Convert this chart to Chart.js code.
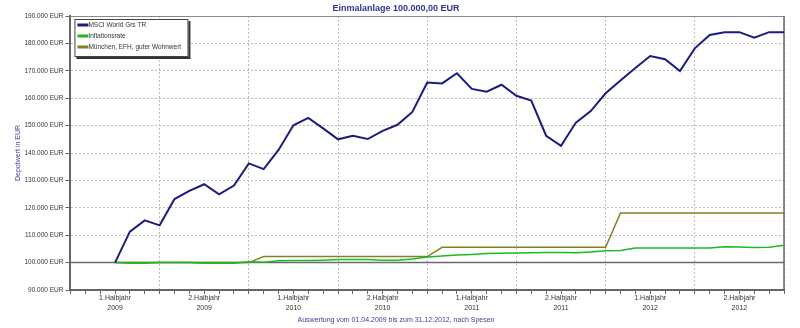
<!DOCTYPE html>
<html>
<head>
<meta charset="utf-8">
<title>Einmalanlage 100.000,00 EUR</title>
<script src="https://cdn.jsdelivr.net/npm/chart.js@4/dist/chart.umd.min.js"></script>
<style>
  html, body { margin: 0; padding: 0; background: #fff; }
  #chart { display: block; }
</style>
</head>
<body>
<canvas id="chart" width="800" height="328"></canvas>
<script>
"use strict";

// months counted from Jan 2009; first value is April 2009
const firstMonth = 3;
const lastMonth = 48;
const baseValue = 100000;

const msciWorld = [100000, 111300, 115400, 113600, 123200, 126200, 128600, 124900, 128100, 136200,
  134100, 141100, 150100, 152800, 149000, 145000, 146300, 145100, 148100, 150300,
  155000, 165700, 165400, 169100, 163400, 162400, 164900, 160900, 159100, 146300,
  142600, 151100, 155300, 161800, 166500, 171000, 175400, 174200, 169900, 178200,
  183100, 184100, 184100, 182100, 184100, 184100];

const inflation = [100000, 99800, 99800, 100000, 100000, 100000, 99800, 99800, 99800, 100300,
  100100, 100700, 100800, 100800, 100900, 101100, 101100, 101100, 100900, 100900,
  101300, 102000, 102400, 102800, 103000, 103300, 103400, 103500, 103600, 103700,
  103700, 103600, 103900, 104300, 104400, 105300, 105300, 105300, 105300, 105300,
  105300, 105800, 105700, 105500, 105600, 106300];

const muenchen = [100000, 100000, 100000, 100000, 100000, 100000, 100000, 100000, 100000, 100000,
  102200, 102200, 102200, 102200, 102200, 102200, 102200, 102200, 102200, 102200,
  102200, 102200, 105600, 105600, 105600, 105600, 105600, 105600, 105600, 105600,
  105600, 105600, 105600, 105600, 118100, 118100, 118100, 118100, 118100, 118100,
  118100, 118100, 118100, 118100, 118100, 118100];

const seriesNames = ['MSCI World Grs TR', 'Inflationsrate', 'München, EFH, guter Wohnwert'];

const halfYearLabels = [
  ['1.Halbjahr', '2009'], ['2.Halbjahr', '2009'],
  ['1.Halbjahr', '2010'], ['2.Halbjahr', '2010'],
  ['1.Halbjahr', '2011'], ['2.Halbjahr', '2011'],
  ['1.Halbjahr', '2012'], ['2.Halbjahr', '2012']
];

const toPoints = values => values.map((v, i) => ({ x: firstMonth + i, y: v }));

const FONT = "'Liberation Sans', Arial, sans-serif";

// legend box inside the plot, top left, with a small drop shadow
const boxLegend = {
  id: 'boxLegend',
  afterDatasetsDraw(chart) {
    const { ctx, chartArea } = chart;
    const x = chartArea.left + 4, y = chartArea.top + 3, w = 114, h = 38;
    const items = chart.data.datasets.filter(ds => !ds.hideInLegend);
    ctx.save();
    ctx.fillStyle = '#333';
    ctx.fillRect(x + 2, y + 2, w, h);
    ctx.fillStyle = '#fff';
    ctx.fillRect(x, y, w, h);
    ctx.strokeStyle = '#444';
    ctx.lineWidth = 1;
    ctx.strokeRect(x + 0.5, y + 0.5, w - 1, h - 1);
    ctx.font = '6.5px ' + FONT;
    ctx.textBaseline = 'middle';
    items.forEach((ds, i) => {
      const ry = y + 6 + i * 11;
      ctx.fillStyle = ds.borderColor;
      ctx.fillRect(x + 3, ry - 1.5, 11, 3);
      ctx.fillStyle = '#333';
      ctx.fillText(ds.label, x + 14, ry);
    });
    ctx.restore();
  }
};

// top and right frame lines of the plot area
const plotFrame = {
  id: 'plotFrame',
  beforeDatasetsDraw(chart) {
    const { ctx, chartArea: a } = chart;
    ctx.save();
    ctx.strokeStyle = '#888';
    ctx.lineWidth = 1;
    ctx.beginPath();
    ctx.moveTo(a.left, a.top + 0.5);
    ctx.lineTo(a.right, a.top + 0.5);
    ctx.stroke();
    ctx.strokeStyle = '#666';
    ctx.lineWidth = 1.5;
    ctx.beginPath();
    ctx.moveTo(a.right, a.top);
    ctx.lineTo(a.right, a.bottom);
    ctx.stroke();
    ctx.restore();
  }
};

const ctx = document.getElementById('chart').getContext('2d');
const chart = new Chart(ctx, {
  type: 'line',
  data: {
    datasets: [{
      label: seriesNames[0],
      data: toPoints(msciWorld),
      borderColor: '#1c1c80',
      borderWidth: 2
    }, {
      label: seriesNames[1],
      data: toPoints(inflation),
      borderColor: '#20b820',
      borderWidth: 1.5
    }, {
      label: seriesNames[2],
      data: toPoints(muenchen),
      borderColor: '#858020',
      borderWidth: 1.5
    }, {
      label: 'Basis',
      hideInLegend: true,
      data: [{ x: 0, y: baseValue }, { x: lastMonth, y: baseValue }],
      borderColor: '#6a6a6a',
      borderWidth: 1.5
    }]
  },
  options: {
    responsive: false,
    animation: false,
    devicePixelRatio: 1,
    elements: {
      point: { radius: 0 },
      line: { tension: 0, fill: false }
    },
    layout: { padding: { left: 8, right: 16, top: 0, bottom: 0 } },
    plugins: {
      legend: { display: false },
      tooltip: { enabled: false },
      title: {
        display: true,
        text: 'Einmalanlage 100.000,00 EUR',
        color: '#333399',
        font: { family: FONT, size: 9, weight: 'bold' },
        padding: { top: 3, bottom: 2.2 }
      },
      subtitle: {
        display: true,
        position: 'bottom',
        text: 'Auswertung vom 01.04.2009 bis zum 31.12.2012, nach Spesen',
        color: '#4040a0',
        font: { family: FONT, size: 7 },
        padding: { top: 3.6, bottom: 3.8 }
      }
    },
    scales: {
      x: {
        type: 'linear',
        min: 0,
        max: lastMonth,
        grid: {
          color: c => (c.tick && c.tick.value % 6 === 0) ? '#bdbdbd' : 'rgba(0,0,0,0)',
          tickColor: '#666',
          tickLength: 4,
          lineWidth: 1
        },
        border: { color: '#666', width: 2, dash: [2, 2] },
        ticks: {
          stepSize: 1,
          autoSkip: false,
          maxRotation: 0,
          minRotation: 0,
          padding: 0,
          color: '#333',
          font: { family: FONT, size: 7, lineHeight: 1.3 },
          callback: v => (v % 6 === 3) ? halfYearLabels[(v - 3) / 6] : ''
        }
      },
      y: {
        min: 90000,
        max: 190000,
        grid: {
          color: '#bdbdbd',
          tickColor: '#666',
          tickLength: 5,
          lineWidth: 1
        },
        border: { color: '#666', width: 2, dash: [2, 2] },
        ticks: {
          stepSize: 10000,
          padding: 2,
          color: '#333',
          font: { family: FONT, size: 6.5 },
          callback: v => (v / 1000) + '.000 EUR'
        },
        title: {
          display: true,
          text: 'Depotwert in EUR',
          color: '#4040a0',
          font: { family: FONT, size: 7 },
          padding: { top: 6, bottom: 0 }
        }
      }
    }
  },
  plugins: [plotFrame, boxLegend]
});
</script>
</body>
</html>
